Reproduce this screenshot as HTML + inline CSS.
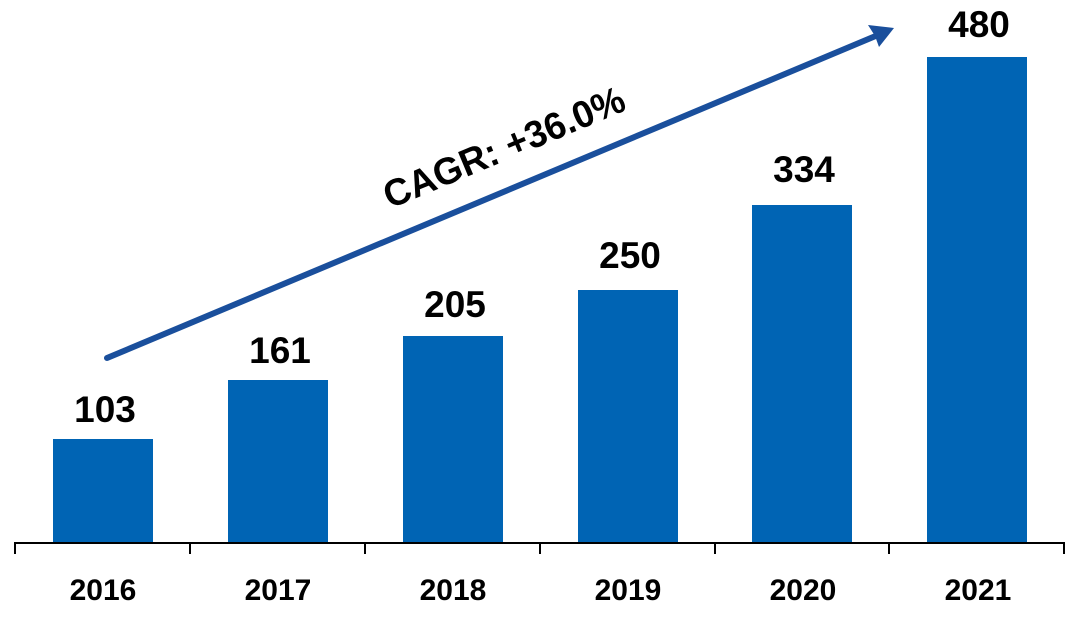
<!DOCTYPE html>
<html>
<head>
<meta charset="utf-8">
<style>
  html, body { margin: 0; padding: 0; background: #ffffff; }
  body { width: 1080px; height: 619px; overflow: hidden; }
  svg { display: block; }
  text { font-family: "Liberation Sans", Arial, sans-serif; font-weight: bold; fill: #000; }
</style>
</head>
<body>
<svg width="1080" height="619" viewBox="0 0 1080 619" xmlns="http://www.w3.org/2000/svg">
  <!-- bars -->
  <g fill="#0064B4">
    <rect x="53" y="439" width="100" height="104"/>
    <rect x="228" y="380" width="100" height="163"/>
    <rect x="403" y="336" width="100" height="207"/>
    <rect x="578" y="290" width="100" height="253"/>
    <rect x="752" y="205" width="100" height="338"/>
    <rect x="927" y="57" width="100" height="486"/>
  </g>

  <!-- axis -->
  <g stroke="#000" stroke-width="2" fill="none">
    <line x1="14" y1="543" x2="1065" y2="543"/>
    <line x1="15" y1="542" x2="15" y2="554"/>
    <line x1="190" y1="542" x2="190" y2="554"/>
    <line x1="365" y1="542" x2="365" y2="554"/>
    <line x1="540" y1="542" x2="540" y2="554"/>
    <line x1="715" y1="542" x2="715" y2="554"/>
    <line x1="889" y1="542" x2="889" y2="554"/>
    <line x1="1064" y1="542" x2="1064" y2="554"/>
  </g>

  <!-- value labels -->
  <g font-size="37" text-anchor="middle">
    <text x="105" y="422">103</text>
    <text x="280" y="363">161</text>
    <text x="455" y="317">205</text>
    <text x="630" y="268">250</text>
    <text x="804" y="182">334</text>
    <text x="979" y="37">480</text>
  </g>

  <!-- year labels -->
  <g font-size="30" text-anchor="middle">
    <text x="103" y="600">2016</text>
    <text x="278" y="600">2017</text>
    <text x="453" y="600">2018</text>
    <text x="628" y="600">2019</text>
    <text x="803" y="600">2020</text>
    <text x="978" y="600">2021</text>
  </g>

  <!-- CAGR arrow -->
  <line x1="107" y1="358" x2="878" y2="35" stroke="#1A4F9C" stroke-width="6" stroke-linecap="round"/>
  <polygon points="894,28 868,25 875,36 879,47" fill="#1A4F9C"/>

  <text font-size="38" transform="translate(390,209) rotate(-22.7)" textLength="258" lengthAdjust="spacingAndGlyphs">CAGR: +36.0%</text>
</svg>
</body>
</html>
